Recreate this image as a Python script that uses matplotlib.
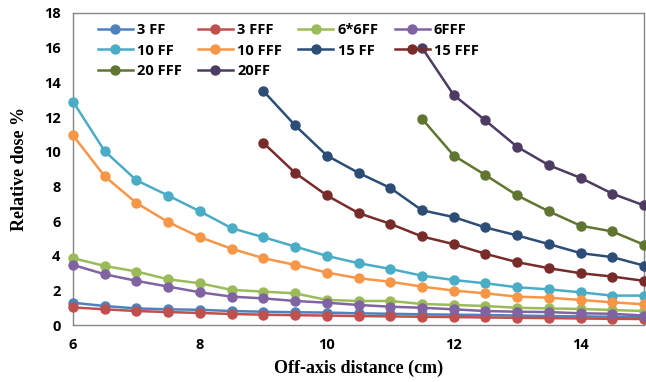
import matplotlib
matplotlib.use("Agg")
from matplotlib import pyplot as plt
import numpy as np

# off-axis distance (cm)
x_all = np.arange(6, 15.01, 0.5)
x_15 = np.arange(9, 15.01, 0.5)
x_20 = np.arange(11.5, 15.01, 0.5)

ff3 = [1.29, 1.10, 0.96, 0.91, 0.88, 0.81, 0.77, 0.74, 0.72, 0.68, 0.65,
       0.62, 0.60, 0.58, 0.55, 0.52, 0.50, 0.48, 0.46]
fff3 = [1.02, 0.91, 0.81, 0.75, 0.70, 0.64, 0.60, 0.57, 0.55, 0.52, 0.50,
        0.48, 0.46, 0.44, 0.42, 0.40, 0.38, 0.36, 0.35]
ff6x6 = [3.86, 3.41, 3.09, 2.64, 2.41, 2.03, 1.93, 1.83, 1.45, 1.39, 1.39,
         1.22, 1.16, 1.10, 1.00, 0.96, 0.93, 0.87, 0.81]
fff6 = [3.47, 2.93, 2.55, 2.22, 1.89, 1.64, 1.54, 1.39, 1.29, 1.16, 1.06,
        1.00, 0.91, 0.81, 0.77, 0.75, 0.68, 0.65, 0.55]
ff10 = [12.89, 10.03, 8.35, 7.47, 6.56, 5.59, 5.07, 4.53, 3.99, 3.57, 3.24,
        2.85, 2.60, 2.41, 2.18, 2.06, 1.89, 1.70, 1.70]
fff10 = [10.94, 8.58, 7.04, 5.94, 5.07, 4.40, 3.86, 3.47, 3.03, 2.70, 2.50,
         2.22, 1.99, 1.83, 1.64, 1.58, 1.45, 1.31, 1.20]
ff15 = [13.50, 11.52, 9.78, 8.78, 7.91, 6.62, 6.23, 5.63, 5.17, 4.67, 4.15,
        3.92, 3.43]
fff15 = [10.51, 8.78, 7.48, 6.46, 5.84, 5.11, 4.67, 4.11, 3.63, 3.28, 2.99,
         2.80, 2.55]
fff20 = [11.90, 9.78, 8.65, 7.48, 6.56, 5.73, 5.40, 4.63]
ff20 = [16.00, 13.27, 11.80, 10.28, 9.22, 8.49, 7.58, 6.90]

series = [
    ("3 FF", x_all, ff3, "#4F81BD"),
    ("3 FFF", x_all, fff3, "#C0504D"),
    ("6*6FF", x_all, ff6x6, "#9BBB59"),
    ("6FFF", x_all, fff6, "#8064A2"),
    ("10 FF", x_all, ff10, "#4BACC6"),
    ("10 FFF", x_all, fff10, "#F79646"),
    ("15 FF", x_15, ff15, "#2C4D75"),
    ("15 FFF", x_15, fff15, "#772C2A"),
    ("20 FFF", x_20, fff20, "#5F7530"),
    ("20FF", x_20, ff20, "#4D3B62"),
]

fig = plt.figure(figsize=(6.46, 3.82), dpi=100)
ax = fig.add_axes([0.113, 0.149, 0.884, 0.817])

lines = {}
for name, xs, ys, col in series:
    ln, = ax.plot(xs, ys, color=col, lw=1.8, marker="o", ms=6.5, label=name,
                  clip_on=False, zorder=3)
    lines[name] = ln

ax.set_xlim(6, 15)
ax.set_ylim(0, 18)
ax.set_xticks([6, 8, 10, 12, 14])
ax.set_yticks(range(0, 19, 2))
ax.tick_params(length=0, labelsize=10.5, pad=9)
for lab in ax.get_xticklabels() + ax.get_yticklabels():
    lab.set_fontfamily("Open Sans")
    lab.set_fontweight("bold")
for sp in ax.spines.values():
    sp.set_color("#868686")
    sp.set_linewidth(1)

ax.set_xlabel("Off-axis distance (cm)", fontfamily="Liberation Serif",
              fontweight="bold", fontsize=13, labelpad=6)
ax.set_ylabel("Relative dose %", fontfamily="Liberation Serif",
              fontweight="bold", fontsize=13, labelpad=11)

# legend is filled column by column, so reorder to match the row layout
order = ["3 FF", "10 FF", "20 FFF", "3 FFF", "10 FFF", "20FF",
         "6*6FF", "15 FF", "6FFF", "15 FFF"]
leg = ax.legend([lines[n] for n in order], order, ncol=4, loc="upper left",
                bbox_to_anchor=(0.02, 1.01), frameon=False,
                prop={"family": "Open Sans", "weight": "bold", "size": 10.5},
                handlelength=2.4, handletextpad=0.3, columnspacing=1.1,
                labelspacing=0.45)

fig.savefig("out.png", dpi=100)
